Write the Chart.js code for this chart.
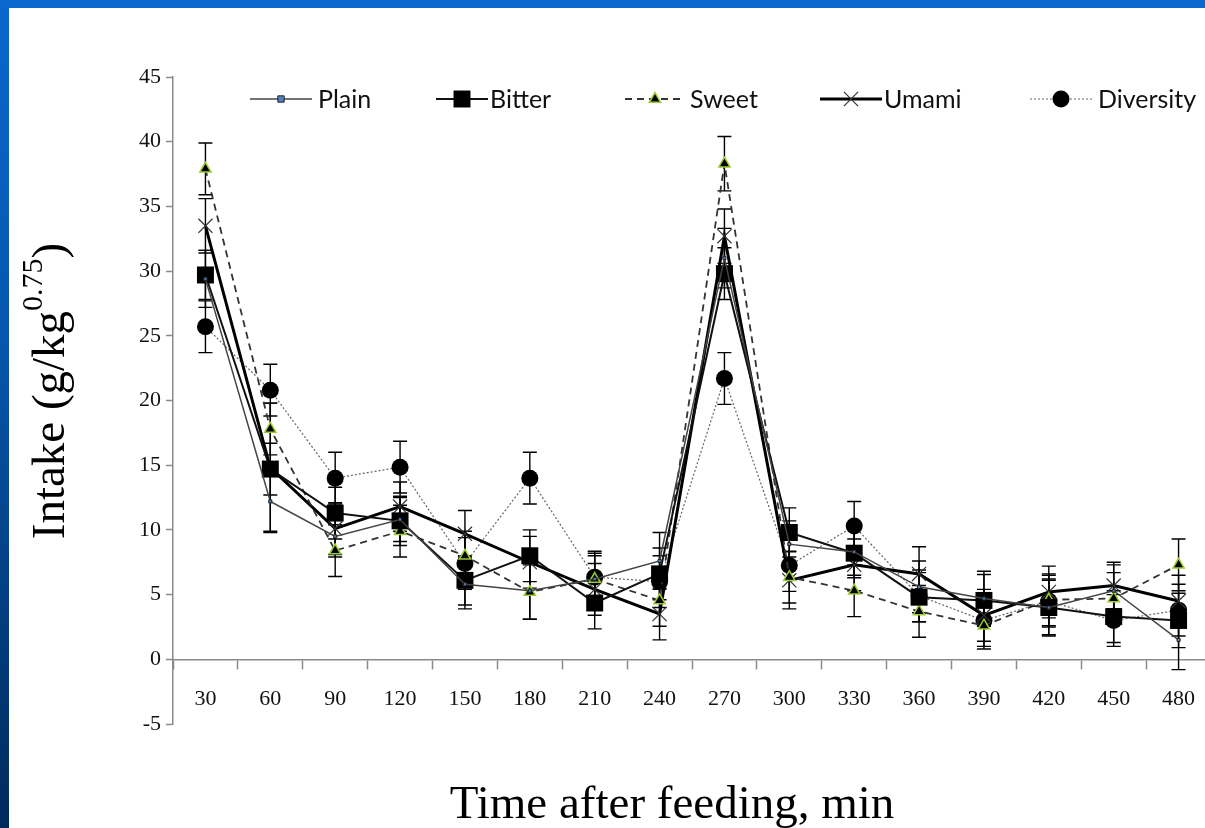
<!DOCTYPE html>
<html>
<head>
<meta charset="utf-8">
<title>Intake after feeding</title>
<script src="https://cdn.jsdelivr.net/npm/chart.js@4.4.1/dist/chart.umd.min.js"></script>
<style>
  html, body { margin: 0; padding: 0; width: 1205px; height: 828px; overflow: hidden; }
  body { position: relative; background: linear-gradient(180deg, #0a67cd 0%, #0657ae 40%, #012a5c 100%); }
  #panel { position: absolute; left: 9px; top: 8px; right: 0; bottom: 0; background: #fff; overflow: hidden; }
  #wrap { position: absolute; left: 0; top: 0; width: 1214px; height: 820px; }
</style>
</head>
<body>
<div id="panel">
  <div id="wrap"><canvas id="intakeChart" width="1214" height="820"></canvas></div>
</div>
<script>
/* ─── Intake (g/kg^0.75) by time after feeding ─────────────── */

const times = ['30', '60', '90', '120', '150', '180', '210', '240',
               '270', '300', '330', '360', '390', '420', '450', '480'];

const plain      = [29.4, 12.2, 9.5, 10.8, 5.8, 5.3, 6.2, 7.6, 31.0, 8.9, 8.3, 5.6, 4.7, 4.0, 5.3, 1.5];
const plainErr   = [2.2, 2.3, 1.6, 1.7, 1.9, 2.2, 1.8, 2.2, 2.3, 1.8, 1.8, 2.0, 2.1, 2.2, 2.0, 2.3];

const bitter     = [29.7, 14.7, 11.3, 10.7, 6.1, 8.0, 4.35, 6.6, 29.8, 9.8, 8.2, 4.8, 4.55, 4.0, 3.3, 3.0];
const bitterErr  = [1.9, 2.0, 2.0, 1.9, 1.9, 2.0, 2.0, 2.0, 2.0, 1.9, 1.9, 1.9, 2.0, 2.1, 2.0, 2.1];

const sweet      = [37.9, 17.8, 8.4, 9.9, 8.0, 5.2, 6.2, 4.55, 38.3, 6.35, 5.3, 3.7, 2.6, 4.6, 4.7, 7.3];
const sweetErr   = [2.0, 2.0, 2.0, 2.0, 1.9, 2.1, 2.0, 2.0, 2.1, 2.0, 2.0, 2.0, 1.8, 2.0, 2.0, 2.0];

const umami      = [33.5, 14.8, 10.1, 11.8, 9.7, 7.5, 5.4, 3.5, 32.7, 6.1, 7.3, 6.6, 3.4, 5.2, 5.7, 4.5];
const umamiErr   = [2.1, 5.0, 2.0, 1.9, 1.8, 2.0, 2.0, 2.0, 2.1, 2.2, 2.0, 2.1, 2.0, 2.0, 1.8, 2.0];

const diversity    = [25.7, 20.8, 14.0, 14.85, 7.4, 14.0, 6.35, 6.0, 21.7, 7.25, 10.3, 4.9, 3.0, 4.5, 3.0, 3.8];
const diversityErr = [2.0, 2.0, 2.0, 2.0, 2.0, 2.0, 2.0, 2.0, 2.0, 2.0, 1.9, 2.0, 2.0, 2.0, 2.0, 2.0];

const yTicks = { min: -5, max: 45, step: 5 };

const SERIF = '"Liberation Serif", "Times New Roman", serif';
const AXIS_GREY = '#8a8a8a';

// vertical SE bars, drawn under the lines and markers
const errorBars = {
  id: 'errorBars',
  beforeDatasetsDraw(chart) {
    const { ctx, scales: { x, y } } = chart;
    ctx.save();
    ctx.strokeStyle = '#000';
    ctx.lineWidth = 1.4;
    chart.data.datasets.forEach(ds => {
      ds.err.forEach((e, j) => {
        const px  = x.getPixelForValue(j);
        const top = y.getPixelForValue(ds.data[j] + e);
        const bot = y.getPixelForValue(ds.data[j] - e);
        ctx.beginPath();
        ctx.moveTo(px, top);     ctx.lineTo(px, bot);
        ctx.moveTo(px - 7, top); ctx.lineTo(px + 7, top);
        ctx.moveTo(px - 7, bot); ctx.lineTo(px + 7, bot);
        ctx.stroke();
      });
    });
    ctx.restore();
  }
};

// line + marker legend along the top, plus the two axis titles
const legendSlots = [
  { x1: 241, x2: 303, tx: 309 },
  { x1: 427, x2: 479, tx: 481 },
  { x1: 616, x2: 676, tx: 681 },
  { x1: 811, x2: 873, tx: 875 },
  { x1: 1021, x2: 1083, tx: 1089 }
];

const decorations = {
  id: 'decorations',
  afterDraw(chart) {
    const { ctx } = chart;
    const ly = 91;
    ctx.save();
    chart.data.datasets.forEach((ds, i) => {
      const s = legendSlots[i];
      ctx.strokeStyle = ds.borderColor;
      ctx.lineWidth = ds.borderWidth;
      ctx.setLineDash(ds.borderDash || []);
      ctx.beginPath();
      ctx.moveTo(s.x1, ly); ctx.lineTo(s.x2, ly);
      ctx.stroke();
      ctx.setLineDash([]);
      ctx.fillStyle = ds.pointBackgroundColor;
      ctx.strokeStyle = ds.pointBorderColor;
      ctx.lineWidth = ds.pointBorderWidth;
      Chart.helpers.drawPoint(ctx, {
        pointStyle: ds.pointStyle, radius: ds.legendRadius || ds.pointRadius, rotation: 0,
        borderWidth: ds.pointBorderWidth
      }, (s.x1 + s.x2) / 2, ly);
      ctx.fillStyle = '#111';
      ctx.font = '25px Lato, "Open Sans", sans-serif';
      ctx.textBaseline = 'middle';
      ctx.textAlign = 'left';
      ctx.fillText(ds.label, s.tx, ly + 1);
    });

    // x title
    ctx.fillStyle = '#000';
    ctx.font = '47px ' + SERIF;
    ctx.textAlign = 'center';
    ctx.textBaseline = 'alphabetic';
    ctx.fillText('Time after feeding, min', 663, 810);

    // y title with superscript exponent
    const main = '47px ' + SERIF, sup = '30px ' + SERIF;
    const parts = [['Intake (g/kg', main, 0], ['0.75', sup, -22], [')', main, 0]];
    let total = 0;
    parts.forEach(p => { ctx.font = p[1]; total += ctx.measureText(p[0]).width; });
    ctx.translate(40, 383);
    ctx.rotate(-Math.PI / 2);
    ctx.textAlign = 'left';
    let cx = -total / 2;
    parts.forEach(p => {
      ctx.font = p[1];
      ctx.fillText(p[0], cx, 15 + p[2]);
      cx += ctx.measureText(p[0]).width;
    });
    ctx.restore();
  }
};

new Chart(document.getElementById('intakeChart'), {
  type: 'line',
  data: {
    labels: times,
    datasets: [
      {
        label: 'Plain', data: plain, err: plainErr,
        borderColor: '#444', borderWidth: 1.5,
        pointStyle: 'rect', pointRadius: 2.2, legendRadius: 4.5,
        pointBackgroundColor: '#4f81bd', pointBorderColor: '#222', pointBorderWidth: 1
      },
      {
        label: 'Bitter', data: bitter, err: bitterErr,
        borderColor: '#111', borderWidth: 2,
        pointStyle: 'rect', pointRadius: 12,
        pointBackgroundColor: '#000', pointBorderColor: '#000', pointBorderWidth: 0
      },
      {
        label: 'Sweet', data: sweet, err: sweetErr,
        borderColor: '#333', borderWidth: 1.8, borderDash: [7, 5],
        pointStyle: 'triangle', pointRadius: 6.5,
        pointBackgroundColor: '#000', pointBorderColor: '#9acd32', pointBorderWidth: 1.5
      },
      {
        label: 'Umami', data: umami, err: umamiErr,
        borderColor: '#000', borderWidth: 3,
        pointStyle: 'crossRot', pointRadius: 10,
        pointBackgroundColor: '#333', pointBorderColor: '#333', pointBorderWidth: 1.2
      },
      {
        label: 'Diversity', data: diversity, err: diversityErr,
        borderColor: '#666', borderWidth: 1.2, borderDash: [2, 2],
        pointStyle: 'circle', pointRadius: 8.5,
        pointBackgroundColor: '#000', pointBorderColor: '#000', pointBorderWidth: 0
      }
    ]
  },
  options: {
    responsive: false,
    animation: false,
    layout: { padding: { left: 0, top: 69, right: 10, bottom: 104 } },
    elements: { line: { tension: 0 } },
    plugins: { legend: { display: false }, tooltip: { enabled: false } },
    scales: {
      x: {
        type: 'category',
        position: { y: 0 },
        offset: true,
        grid: { offset: true, drawOnChartArea: false, color: AXIS_GREY, tickLength: 9, tickWidth: 1.5 },
        border: { color: AXIS_GREY, width: 1.5 },
        ticks: { color: '#111', font: { family: SERIF, size: 22 }, padding: 18, maxRotation: 0, autoSkip: false }
      },
      y: {
        min: yTicks.min,
        max: yTicks.max,
        afterFit: s => { s.width = 164; },
        grid: { drawOnChartArea: false, color: AXIS_GREY, tickLength: 7, tickWidth: 1.5 },
        border: { color: AXIS_GREY, width: 1.5 },
        ticks: { stepSize: yTicks.step, color: '#111', font: { family: SERIF, size: 22 }, padding: 5 }
      }
    }
  },
  plugins: [errorBars, decorations]
});
</script>
</body>
</html>
